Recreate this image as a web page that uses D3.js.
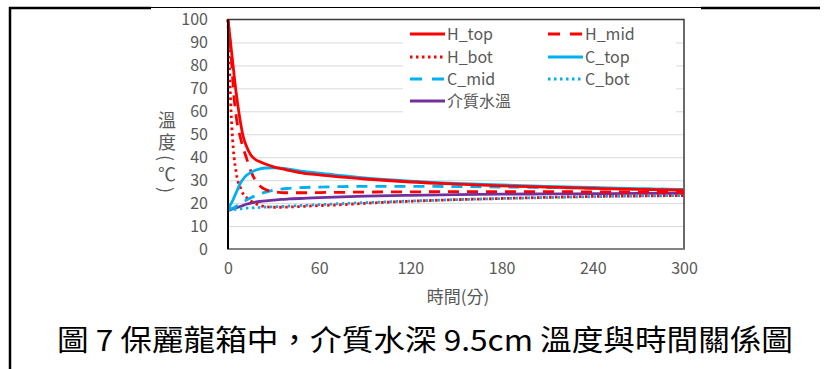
<!DOCTYPE html>
<html>
<head>
<meta charset="utf-8">
<script src="https://cdn.jsdelivr.net/npm/d3@7"></script>
<style>
  html, body { margin: 0; padding: 0; background: #fff; }
  svg { display: block; }
</style>
</head>
<body>
<svg id="chart" width="830" height="369"></svg>
<script>
// Elapsed time (minutes) shared by every series
const minutes = [0, 1, 2, 3, 4, 5, 6, 8, 10, 12, 15, 18, 21, 25, 30, 35, 40, 50, 60, 75, 90, 120, 150, 180, 210, 240, 270, 300];

// Temperatures (°C) at each time
const hTop = [100, 94, 88, 82, 76, 70, 65, 56, 49, 45, 41, 39, 38, 36.9, 35.8, 35, 34.3, 33, 32.3, 31.3, 30.5, 29.2, 28.3, 27.5, 27, 26.4, 26, 25.6];
const hMid = [100, 93, 85, 75, 66, 60, 55, 49, 44, 40, 34, 30, 27.5, 25.8, 25, 24.6, 24.5, 24.5, 24.6, 24.7, 24.8, 24.9, 25, 25, 25, 24.9, 24.8, 24.7];
const hBot = [100, 78, 60, 48, 40, 35, 31, 27, 24, 22.5, 21, 19.8, 19, 18.4, 18.2, 18.2, 18.3, 18.6, 18.9, 19.3, 19.9, 20.8, 21.5, 22, 22.5, 22.9, 23.1, 23.3];
const cTop = [17, 18.5, 19.8, 21, 22.5, 24, 25.5, 28.5, 30.5, 32, 33.3, 34.3, 34.9, 35.3, 35.4, 35.2, 34.8, 33.8, 33, 32, 31, 29.6, 28.6, 27.9, 27.3, 26.8, 26.3, 25.9];
const cMid = [17, 17.2, 17.5, 17.8, 18.1, 18.5, 18.9, 19.7, 20.5, 21.3, 22.3, 23.2, 24, 24.8, 25.6, 26.1, 26.4, 26.8, 27, 27.2, 27.3, 27.3, 27.2, 27, 26.8, 26.5, 26.2, 25.9];
const cBot = [17, 17, 17.1, 17.1, 17.2, 17.3, 17.4, 17.5, 17.7, 17.8, 17.9, 18, 18.1, 18.3, 18.4, 18.5, 18.7, 19, 19.3, 19.8, 20.2, 20.9, 21.5, 22, 22.4, 22.8, 23.1, 23.3];
const medium = [16.8, 17, 17.2, 17.5, 17.7, 17.9, 18.1, 18.5, 19, 19.5, 20, 20.4, 20.7, 21, 21.3, 21.6, 21.8, 22.1, 22.4, 22.7, 23, 23.4, 23.7, 23.9, 24, 24.1, 24.2, 24.2];

const seriesNames = ["H_top", "H_mid", "H_bot", "C_top", "C_mid", "C_bot", "介質水溫"];
const seriesValues = [hTop, hMid, hBot, cTop, cMid, cBot, medium];

const xTicks = [0, 60, 120, 180, 240, 300];
const yTicks = [0, 10, 20, 30, 40, 50, 60, 70, 80, 90, 100];

const xTitle = "時間(分)";
const yTitle = "溫度(℃)";
const caption = "圖 7 保麗龍箱中，介質水深 9.5cm 溫度與時間關係圖";

// Line styles per series
const styles = [
  { color: "#FF0000", dash: null },
  { color: "#FF0000", dash: "11,8" },
  { color: "#FF0000", dash: "2.5,3.5" },
  { color: "#00B0F0", dash: null },
  { color: "#00B0F0", dash: "11,8" },
  { color: "#00B0F0", dash: "2.5,3.5" },
  { color: "#7030A0", dash: null }
];

const svg = d3.select("#chart");
const font = "'Noto Sans CJK TC', 'Noto Sans', sans-serif";
const grey = "#595959";

// Page frame (table cell borders)
svg.append("line").attr("x1", 10).attr("x2", 10).attr("y1", 7).attr("y2", 369)
  .attr("stroke", "#000").attr("stroke-width", 2.5);
svg.append("line").attr("x1", 9).attr("x2", 151).attr("y1", 8).attr("y2", 8)
  .attr("stroke", "#000").attr("stroke-width", 2.5);
svg.append("line").attr("x1", 151).attr("x2", 701).attr("y1", 7.5).attr("y2", 7.5)
  .attr("stroke", "#000").attr("stroke-width", 1);
svg.append("line").attr("x1", 701).attr("x2", 820).attr("y1", 8).attr("y2", 8)
  .attr("stroke", "#000").attr("stroke-width", 2.5);

const plot = { left: 228, right: 684, top: 19.5, bottom: 249 };

const x = d3.scaleLinear().domain([0, 300]).range([plot.left, plot.right]);
const y = d3.scaleLinear().domain([0, 100]).range([plot.bottom, plot.top]);

// Horizontal gridlines
const gridAxis = d3.axisLeft(y).tickValues(yTicks.filter(v => v > 0 && v < 100))
  .tickSize(-(plot.right - plot.left)).tickFormat("");
const grid = svg.append("g").attr("transform", `translate(${plot.left},0)`).call(gridAxis);
grid.select(".domain").remove();
grid.selectAll("line").attr("stroke", "#d9d9d9").attr("stroke-width", 1);

// Y tick labels
const yAxis = d3.axisLeft(y).tickValues(yTicks).tickSize(0).tickPadding(20);
const yg = svg.append("g").attr("transform", `translate(${plot.left},0)`).call(yAxis);
yg.select(".domain").remove();
yg.selectAll("text").attr("font-family", font).attr("font-size", 16).attr("fill", grey);

// X tick labels
const xAxis = d3.axisBottom(x).tickValues(xTicks).tickSize(0).tickPadding(14);
const xg = svg.append("g").attr("transform", `translate(0,${plot.bottom})`).call(xAxis);
xg.select(".domain").remove();
xg.selectAll("text").attr("font-family", font).attr("font-size", 16).attr("fill", grey);

// Plot area border
svg.append("rect")
  .attr("x", plot.left).attr("y", plot.top)
  .attr("width", plot.right - plot.left).attr("height", plot.bottom - plot.top)
  .attr("fill", "none").attr("stroke", "#3a3a3a").attr("stroke-width", 1.5);
svg.append("line").attr("x1", plot.left).attr("x2", plot.right)
  .attr("y1", plot.bottom).attr("y2", plot.bottom)
  .attr("stroke", "#8c8c8c").attr("stroke-width", 1.5);

// Legend background
const legend = svg.append("g");
legend.append("rect").attr("x", 403).attr("y", 22).attr("width", 273).attr("height", 96)
  .attr("fill", "#fff");

// Series lines
const line = d3.line().x(d => x(d[0])).y(d => y(d[1])).curve(d3.curveMonotoneX);
const drawOrder = [6, 5, 2, 4, 1, 3, 0];
drawOrder.forEach(i => {
  const pts = minutes.map((t, k) => [t, seriesValues[i][k]]);
  svg.append("path")
    .datum(pts)
    .attr("d", line)
    .attr("fill", "none")
    .attr("stroke", styles[i].color)
    .attr("stroke-width", 2.8)
    .attr("stroke-dasharray", styles[i].dash)
    .attr("stroke-linejoin", "round");
});

// Left axis line on top
svg.append("line").attr("x1", plot.left).attr("x2", plot.left)
  .attr("y1", plot.top).attr("y2", plot.bottom)
  .attr("stroke", "#000").attr("stroke-width", 2);

// Legend entries
const legendPos = [
  [410, 34], [548, 34],
  [410, 57], [548, 57],
  [410, 79], [548, 79],
  [410, 101]
];
seriesNames.forEach((name, i) => {
  const [lx, ly] = legendPos[i];
  legend.append("line")
    .attr("x1", lx).attr("x2", lx + 35).attr("y1", ly).attr("y2", ly)
    .attr("stroke", styles[i].color).attr("stroke-width", 2.8)
    .attr("stroke-dasharray", styles[i].dash ? (styles[i].dash === "11,8" ? "12,10" : "2.5,3.5") : null);
  legend.append("text")
    .attr("x", lx + 37).attr("y", ly + 6)
    .attr("font-family", font).attr("font-size", 16).attr("fill", grey)
    .text(name);
});

// X axis title
svg.append("text")
  .attr("x", 458).attr("y", 303)
  .attr("text-anchor", "middle")
  .attr("font-family", font).attr("font-size", 17).attr("fill", grey)
  .text(xTitle);

// Y axis title, set vertically (brackets turn sideways, ℃ kept upright)
const yTitleText = svg.append("text")
  .attr("x", 167).attr("y", 111)
  .attr("writing-mode", "vertical-rl")
  .style("letter-spacing", "4px")
  .attr("font-family", font).attr("font-size", 18).attr("fill", grey);
Array.from(yTitle).forEach(ch => {
  const t = yTitleText.append("tspan").text(ch);
  if (ch === "℃") t.style("text-orientation", "upright");
});

// Caption
svg.append("text")
  .attr("x", 57).attr("y", 351)
  .attr("textLength", 736).attr("lengthAdjust", "spacingAndGlyphs")
  .attr("font-family", font).attr("font-size", 29).attr("fill", "#000")
  .text(caption);
</script>
</body>
</html>
